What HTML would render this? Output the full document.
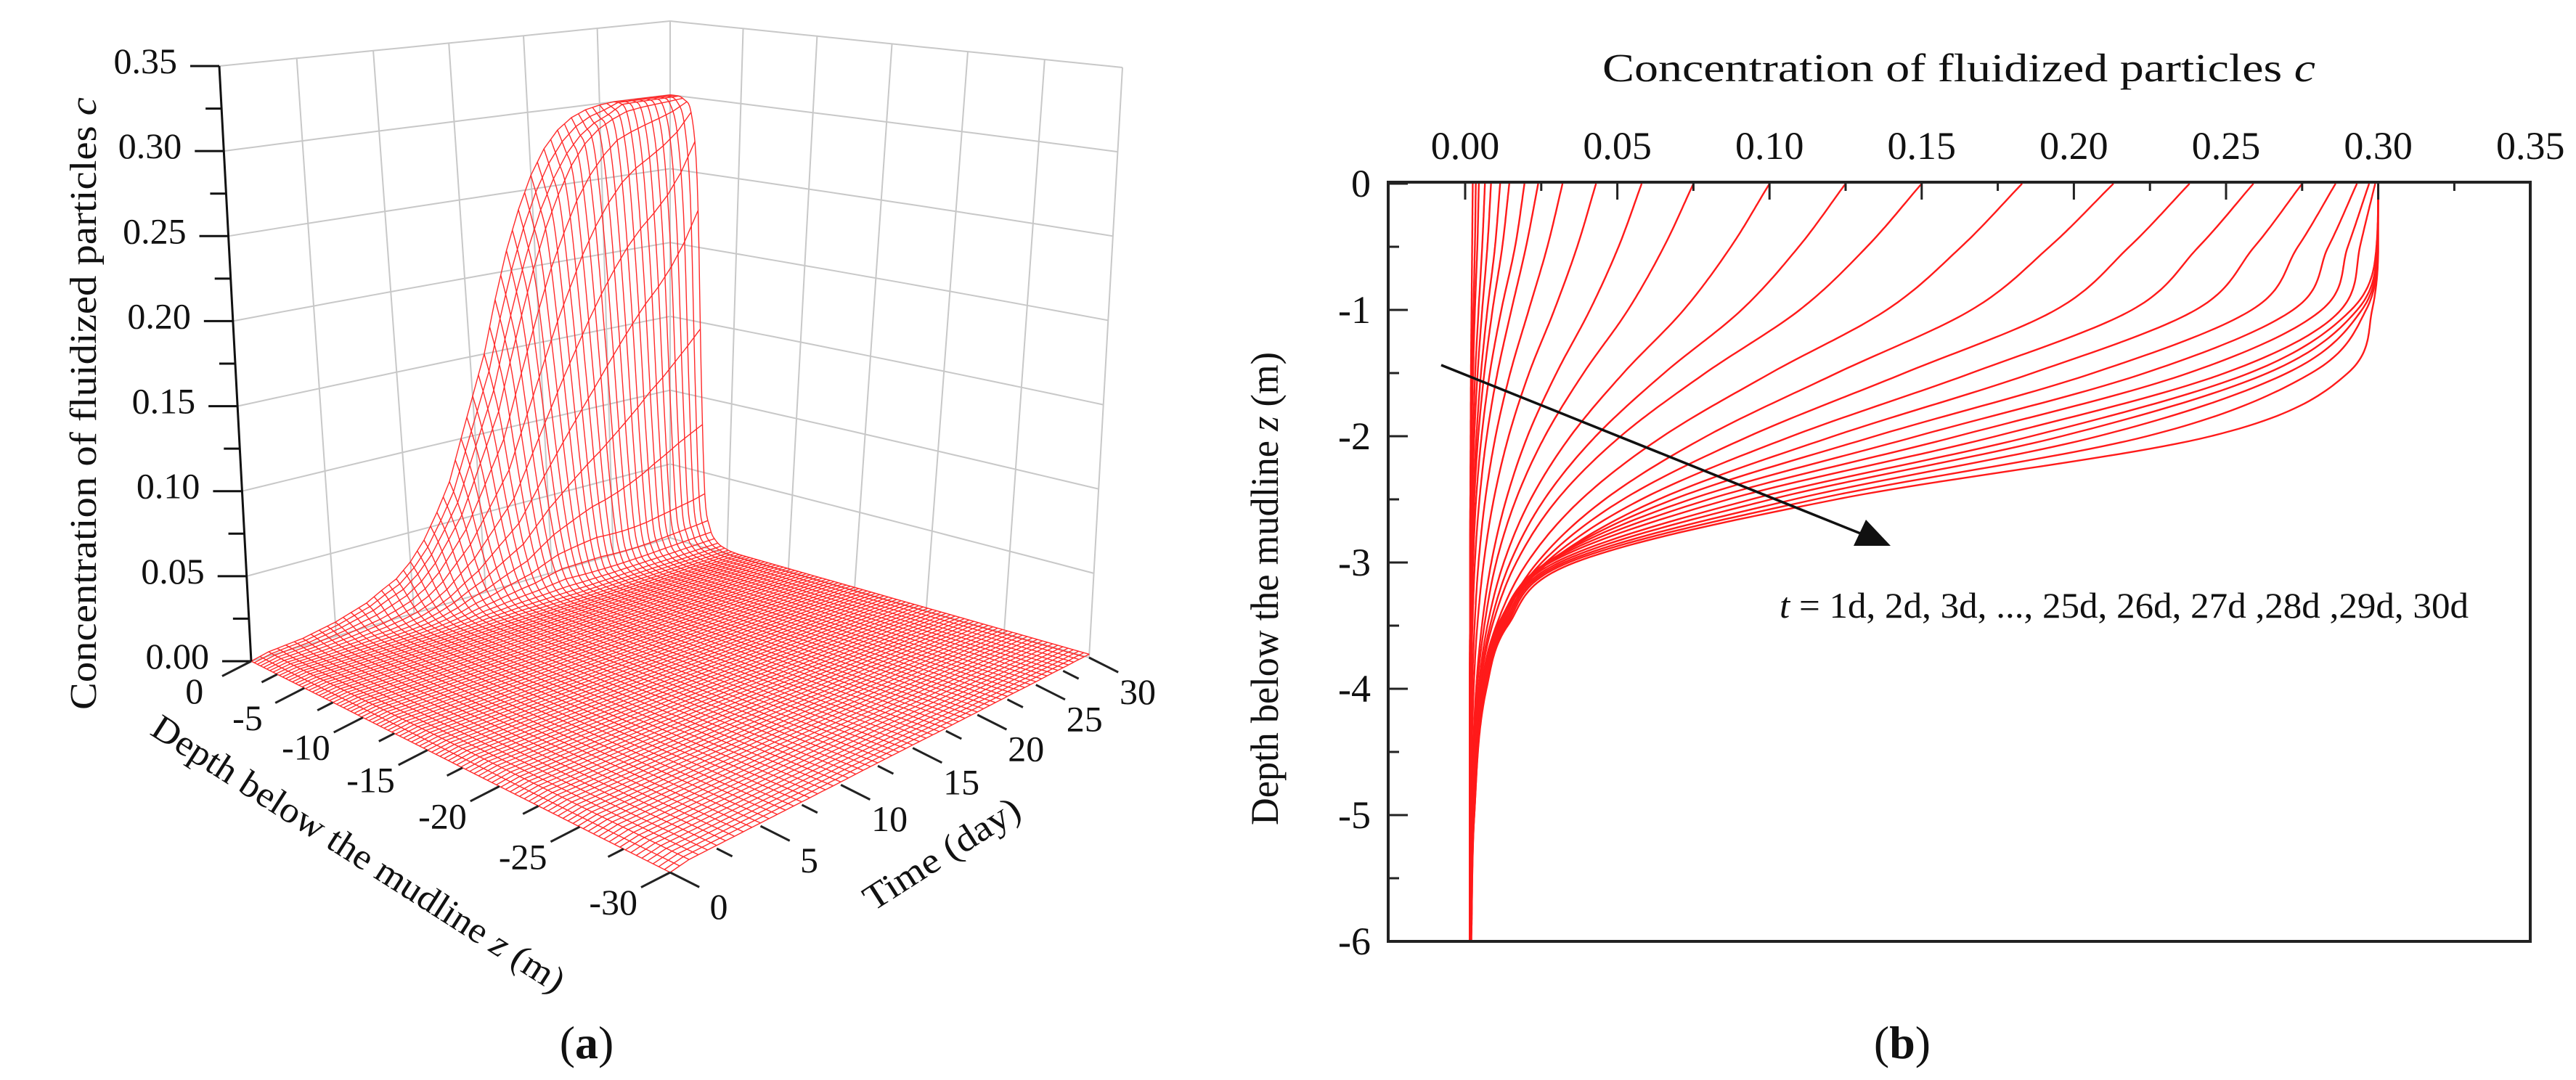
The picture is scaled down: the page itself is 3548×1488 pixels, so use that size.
<!DOCTYPE html>
<html><head><meta charset="utf-8"><style>
html,body{margin:0;padding:0;background:#fff}
svg{display:block}
text{font-family:"Liberation Serif",serif;fill:#111}
</style></head><body>
<svg id="fig" width="3548" height="1488" viewBox="0 0 3548 1488" xmlns="http://www.w3.org/2000/svg">
<g id="pa"></g>
<g id="pb"></g>
<text x="808" y="1458" font-size="64" text-anchor="middle">(<tspan font-weight="bold">a</tspan>)</text>
<text x="2620" y="1458" font-size="64" text-anchor="middle">(<tspan font-weight="bold">b</tspan>)</text>
</svg>
<script>
const DEPTHS=[0,-0.5,-1,-1.5,-2,-2.5,-3,-3.5,-4,-5,-6];
const DAYS=[1,2,3,4,5,6,7,8,9,10,11,12,13,14,15,16,17,18,19,20,21,22,23,24,25,26,27,28,29,30];
const c_t01=[.0025,.0023,.0021,.0019,.0018,.0017,.0016,.0016,.0015,.0015,.0015];
const c_t02=[.0035,.0032,.0027,.0022,.0019,.0017,.0016,.0016,.0015,.0015,.0015];
const c_t03=[.0045,.0040,.0032,.0026,.0021,.0018,.0017,.0016,.0015,.0015,.0015];
const c_t04=[.0065,.0056,.0044,.0033,.0026,.0021,.0018,.0016,.0016,.0015,.0015];
const c_t05=[.0085,.0073,.0056,.0041,.0030,.0023,.0019,.0017,.0016,.0015,.0015];
const c_t06=[.0115,.0098,.0073,.0052,.0037,.0027,.0021,.0018,.0016,.0015,.0015];
const c_t07=[.0145,.0122,.0090,.0063,.0043,.0030,.0023,.0019,.0017,.0015,.0015];
const c_t08=[.0195,.0164,.0119,.0081,.0054,.0036,.0026,.0020,.0017,.0015,.0015];
const c_t09=[.024,.0200,.0152,.0106,.0071,.0047,.0032,.0024,.0019,.0016,.0015];
const c_t10=[.032,.0270,.0209,.0148,.0100,.0066,.0044,.0031,.0023,.0017,.0015];
const c_t11=[.043,.0368,.0293,.0210,.0143,.0094,.0061,.0040,.0028,.0018,.0016];
const c_t12=[.058,.0504,.0410,.0300,.0205,.0135,.0086,.0055,.0036,.0020,.0016];
const c_t13=[.075,.0653,.0535,.0389,.0262,.0167,.0102,.0063,.0039,.0020,.0016];
const c_t14=[.100,.0873,.0718,.0520,.0346,.0215,.0127,.0073,.0044,.0021,.0016];
const c_t15=[.125,.1096,.0908,.0654,.0429,.0260,.0148,.0082,.0046,.0020,.0016];
const c_t16=[.150,.1320,.1099,.0789,.0511,.0303,.0168,.0089,.0048,.0020,.0016];
const c_t17=[.183,.1630,.1385,.1004,.0650,.0382,.0204,.0102,.0051,.0020,.0015];
const c_t18=[.213,.1920,.1663,.1221,.0793,.0459,.0237,.0114,.0053,.0020,.0016];
const c_t19=[.238,.2182,.1940,.1443,.0933,.0519,.0252,.0110,.0052,.0021,.0016];
const c_t20=[.259,.2410,.2191,.1663,.1073,.0579,.0265,.0108,.0053,.0022,.0016];
const c_t21=[.275,.2593,.2400,.1864,.1210,.0636,.0275,.0107,.0054,.0023,.0017];
const c_t22=[.286,.2736,.2584,.2063,.1346,.0684,.0270,.0106,.0056,.0024,.0017];
const c_t23=[.293,.2836,.2720,.2233,.1484,.0740,.0268,.0108,.0058,.0025,.0018];
const c_t24=[.297,.2900,.2814,.2376,.1617,.0800,.0272,.0110,.0060,.0026,.0018];
const c_t25=[.299,.2940,.2877,.2496,.1744,.0865,.0280,.0115,.0061,.0027,.0018];
const c_t26=[.300,.2994,.2911,.2576,.1860,.0940,.0295,.0120,.0062,.0028,.0019];
const c_t27=[.300,.2996,.2931,.2636,.1960,.1005,.0310,.0125,.0064,.0028,.0019];
const c_t28=[.300,.2997,.2946,.2700,.2080,.1080,.0325,.0130,.0066,.0029,.0019];
const c_t29=[.300,.2998,.2960,.2780,.2240,.1150,.0340,.0135,.0068,.0030,.0020];
const c_t30=[.300,.3000,.2980,.2900,.2450,.1220,.0360,.0140,.0070,.0030,.0020];
const PROFILES=[c_t01,c_t02,c_t03,c_t04,c_t05,c_t06,c_t07,c_t08,c_t09,c_t10,c_t11,c_t12,c_t13,c_t14,c_t15,c_t16,c_t17,c_t18,c_t19,c_t20,c_t21,c_t22,c_t23,c_t24,c_t25,c_t26,c_t27,c_t28,c_t29,c_t30];
const B_XTICKS=["0.00","0.05","0.10","0.15","0.20","0.25","0.30","0.35"];
const B_YTICKS=["0","-1","-2","-3","-4","-5","-6"];
const A_CTICKS=["0.00","0.05","0.10","0.15","0.20","0.25","0.30","0.35"];
const A_ZTICKS=["0","-5","-10","-15","-20","-25","-30"];
const A_TTICKS=["0","5","10","15","20","25","30"];

const NS="http://www.w3.org/2000/svg";
function mk(parent,tag,attrs){const e=document.createElementNS(NS,tag);for(const k in attrs)e.setAttribute(k,attrs[k]);parent.appendChild(e);return e;}
function pts(a){return a.map(p=>p[0].toFixed(1)+","+p[1].toFixed(1)).join(" ");}

function makeInterp(xs,ys){
  const n=xs.length,d=[],m=new Array(n);
  for(let i=0;i<n-1;i++)d.push((ys[i+1]-ys[i])/(xs[i+1]-xs[i]));
  m[0]=d[0];m[n-1]=d[n-2];
  for(let i=1;i<n-1;i++){m[i]=(d[i-1]*d[i]<=0)?0:(d[i-1]+d[i])/2;}
  for(let i=0;i<n-1;i++){if(d[i]===0){m[i]=0;m[i+1]=0;continue;}
    const a=m[i]/d[i],b=m[i+1]/d[i],s=a*a+b*b;if(s>9){const t=3/Math.sqrt(s);m[i]=t*a*d[i];m[i+1]=t*b*d[i];}}
  return function(x){
    if(x<=xs[0])return ys[0]; if(x>=xs[n-1])return ys[n-1];
    let i=0;while(x>xs[i+1])i++;
    const h=xs[i+1]-xs[i],t=(x-xs[i])/h,t2=t*t,t3=t2*t;
    return (2*t3-3*t2+1)*ys[i]+(t3-2*t2+t)*h*m[i]+(-2*t3+3*t2)*ys[i+1]+(t3-t2)*h*m[i+1];
  };
}
const XS=DEPTHS.map(z=>-z);
const interps=PROFILES.map(p=>makeInterp(XS,p));
function cval(z,t){
  const x=Math.min(-z,6);
  if(t<=DAYS[0]){return interps[0](x)*Math.max(0,t)/DAYS[0];}
  const i0=Math.min(Math.floor(t)-1,DAYS.length-1),i1=Math.min(i0+1,DAYS.length-1);
  const f=t-Math.floor(t);
  return interps[i0](x)*(1-f)+interps[i1](x)*f;
}

/* ---------- Panel B ---------- */
(function(){
  const g=document.getElementById('pb');
  const X0=2018,PX=4192,Y0=253,PY=174,L=1912,R=3485,T=251,B=1297;
  const sx=c=>X0+c*PX, sy=z=>Y0-z*PY;
  const clip=mk(g,'clipPath',{id:'bclip'});mk(clip,'rect',{x:L,y:T,width:R-L,height:B-T});
  const cg=mk(g,'g',{'clip-path':'url(#bclip)'});
  
  
  PROFILES.forEach((p,k)=>{
    const a=[];for(let x=0;x<=6.0001;x+=0.02)a.push([sx(interps[k](x)),sy(-x)]);
    const pl=mk(cg,'polyline',{points:pts(a),fill:'none',stroke:'#ff1a1a','stroke-width':2.4});
    
    
  });
  const fr=mk(g,'rect',{x:L,y:T,width:R-L,height:B-T,fill:'none',stroke:'#222','stroke-width':4});
  
  
  for(let i=0;i<=14;i++){const c=i*0.025,x=sx(c);if(x>R-2)continue;
    const tk=mk(g,'line',{x1:x,y1:T,x2:x,y2:T+(i%2?12:24),stroke:'#222','stroke-width':3});
    
    }
  B_XTICKS.forEach((s,i)=>{const t=mk(g,'text',{x:sx(i*0.05),y:219,'font-size':54,'text-anchor':'middle'});t.textContent=s;
    
    });
  for(let i=0;i<=12;i++){const y=sy(-i*0.5);
    const tk=mk(g,'line',{x1:L,y1:y,x2:L+(i%2?15:27),y2:y,stroke:'#222','stroke-width':3});
    
    }
  B_YTICKS.forEach((s,i)=>{const t=mk(g,'text',{x:1888,y:sy(-i)+18,'font-size':54,'text-anchor':'end'});t.textContent=s;
    
    });
  const xt=mk(g,'text',{x:2698,y:112,'font-size':55,'text-anchor':'middle',textLength:982,lengthAdjust:'spacingAndGlyphs'});
  xt.innerHTML='Concentration of fluidized particles <tspan font-style="italic">c</tspan>';
  
  
  const yt=mk(g,'text',{x:0,y:0,'font-size':54,'text-anchor':'middle',textLength:652,lengthAdjust:'spacingAndGlyphs',transform:'translate(1760,811) rotate(-90)'});
  yt.innerHTML='Depth below the mudline <tspan font-style="italic">z</tspan> (m)';
  
  
  const ar=mk(g,'line',{x1:1985,y1:503,x2:2570,y2:738,stroke:'#111','stroke-width':3.5});
  
  
  const ah=mk(g,'polygon',{points:'2604,752 2553,752 2570,716',fill:'#111'});
  
  
  const lt=mk(g,'text',{x:2451,y:851,'font-size':50,textLength:949,lengthAdjust:'spacingAndGlyphs'});
  lt.innerHTML='<tspan font-style="italic">t</tspan> = 1d, 2d, 3d, ..., 25d, 26d, 27d ,28d ,29d, 30d';
  
  
})();

/* ---------- Panel A ---------- */
(function(){
  const g=document.getElementById('pa');
  function homog(P){
    const [x0,y0]=P[0],[x1,y1]=P[1],[x2,y2]=P[2],[x3,y3]=P[3];
    const sx=x0-x1+x2-x3,sy=y0-y1+y2-y3,dx1=x1-x2,dx2=x3-x2,dy1=y1-y2,dy2=y3-y2;
    const den=dx1*dy2-dx2*dy1,gg=(sx*dy2-dx2*sy)/den,h=(dx1*sy-sx*dy1)/den;
    const a=x1-x0+gg*x1,b=x3-x0+h*x3,d=y1-y0+gg*y1,e=y3-y0+h*y3;
    return (u,v)=>{const w=gg*u+h*v+1;return [(a*u+b*v+x0)/w,(d*u+e*v+y0)/w];};
  }
  const floor=homog([[346,911],[923,1202],[1500,906],[923,741]]);
  const top=homog([[302,91],[924,160],[1546,93],[923,29]]);
  const CMAX=0.35;
  function P(z,t,c){const u=-z/30,v=t/30;const f=floor(u,v),tp=top(u,v),k=c/CMAX;return [f[0]+(tp[0]-f[0])*k,f[1]+(tp[1]-f[1])*k];}
  const wg=mk(g,'g',{stroke:'#c8c8c8','stroke-width':2,fill:'none'});
  
  
  for(let i=0;i<=6;i++){
    mk(wg,'line',{x1:P(0,i*5,0)[0],y1:P(0,i*5,0)[1],x2:P(0,i*5,CMAX)[0],y2:P(0,i*5,CMAX)[1]});
    mk(wg,'line',{x1:P(-i*5,30,0)[0],y1:P(-i*5,30,0)[1],x2:P(-i*5,30,CMAX)[0],y2:P(-i*5,30,CMAX)[1]});
  }
  for(let j=0;j<=7;j++){const c=j*0.05;const a=[],b=[];
    for(let s=0;s<=30;s+=1){a.push(P(0,s,c));b.push(P(-s,30,c));}
    mk(wg,'polyline',{points:pts(a)});mk(wg,'polyline',{points:pts(b)});}
  const mg=mk(g,'g',{stroke:'#ff2a2a','stroke-width':1.4,fill:'none'});
  
  
  for(let t=0;t<=30.001;t+=0.5){const a=[];
    for(let x=0;x<=6;x+=0.1)a.push(P(-x,t,cval(-x,t)));
    for(let x=8;x<=30;x+=2)a.push(P(-x,t,cval(-x,t)));
    const pl=mk(mg,'polyline',{points:pts(a)});
    
    }
  for(let x=0;x<=30.001;x+=0.3){const a=[];
    for(let t=0;t<=30.001;t+=0.25)a.push(P(-x,t,cval(-x,t)));
    const pl=mk(mg,'polyline',{points:pts(a)});
    
    }
  const a0=P(0,0,0),a1=P(0,0,CMAX);
  const ax=mk(g,'line',{x1:a0[0],y1:a0[1],x2:a1[0],y2:a1[1],stroke:'#111','stroke-width':3});
  
  
  for(let i=0;i<=14;i++){const p=P(0,0,i*0.025);
    const tk=mk(g,'line',{x1:p[0],y1:p[1],x2:p[0]-(i%2?22:40),y2:p[1],stroke:'#111','stroke-width':3});
    
    }
  A_CTICKS.forEach((s,i)=>{const p=P(0,0,i*0.05);const t=mk(g,'text',{x:p[0]-58,y:p[1]+10,'font-size':50,'text-anchor':'end'});t.textContent=s;
    
    });
  const dz=[-577,296],dn=Math.hypot(dz[0],dz[1]);
  for(let i=0;i<=12;i++){const p=P(-i*2.5,0,0),l=i%2?24:45;
    const tk=mk(g,'line',{x1:p[0],y1:p[1],x2:p[0]+dz[0]/dn*l,y2:p[1]+dz[1]/dn*l,stroke:'#222','stroke-width':3});
    
    }
  A_ZTICKS.forEach((s,i)=>{const p=P(-i*5,0,0);const t=mk(g,'text',{x:p[0]+dz[0]/dn*88,y:p[1]+dz[1]/dn*88+18,'font-size':50,'text-anchor':'middle'});t.textContent=s;
    
    });
  const dt=[577,291],dtn=Math.hypot(dt[0],dt[1]);
  for(let i=0;i<=12;i++){const p=P(-30,i*2.5,0),l=i%2?24:45;
    const tk=mk(g,'line',{x1:p[0],y1:p[1],x2:p[0]+dt[0]/dtn*l,y2:p[1]+dt[1]/dtn*l,stroke:'#222','stroke-width':3});
    
    }
  A_TTICKS.forEach((s,i)=>{const p=P(-30,i*5,0);const t=mk(g,'text',{x:p[0]+dt[0]/dtn*75,y:p[1]+dt[1]/dtn*75+30,'font-size':50,'text-anchor':'middle'});t.textContent=s;
    
    });
  const ct=mk(g,'text',{x:0,y:0,'font-size':52,'text-anchor':'middle',textLength:844,lengthAdjust:'spacingAndGlyphs',transform:'translate(132,556) rotate(-90)'});
  ct.innerHTML='Concentration of fluidized particles <tspan font-style="italic">c</tspan>';
  
  
  const zt=mk(g,'text',{x:0,y:0,'font-size':50,'text-anchor':'middle',textLength:665,lengthAdjust:'spacingAndGlyphs',transform:'translate(485,1190) rotate(32.6)'});
  zt.innerHTML='Depth below the mudline <tspan font-style="italic">z</tspan> (m)';
  
  
  const tt=mk(g,'text',{x:0,y:0,'font-size':50,'text-anchor':'middle',textLength:246,lengthAdjust:'spacingAndGlyphs',transform:'translate(1306,1190) rotate(-32.6)'});
  tt.textContent='Time (day)';
  
  
})();
</script>
</body></html>
